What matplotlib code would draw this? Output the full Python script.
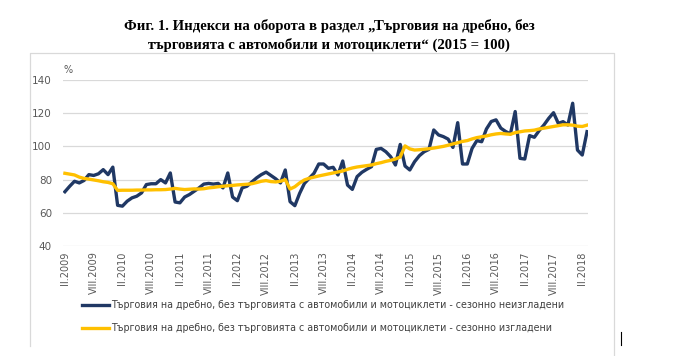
import matplotlib.pyplot as plt
import numpy as np
from matplotlib.lines import Line2D

# monthly indices, II.2009 .. III.2018 (2015 = 100)
unadjusted = [72.7, 76, 79, 78, 79.5, 83, 82.5, 83.5, 86, 83, 87.5,
              64.5, 64, 67, 69, 70, 72, 77, 77.5, 77.5, 80, 78, 84,
              66.5, 66, 69.5, 71, 73, 75, 77.3, 77.7, 77.3, 77.7, 75, 84,
              69.5, 67.3, 75, 76, 78.5, 81, 83, 84.5, 82.5, 80.5, 78, 85.8,
              66.7, 64.3, 71.7, 77.7, 80.8, 83.8, 89.4, 89.4, 86.8, 87.4, 82.8, 91.2,
              76.7, 74.1, 81.8, 84.4, 86.2, 87.8, 98.2, 98.8, 96.8, 93.8, 88.8, 101.2,
              88.2, 85.8, 90.8, 94.4, 96.8, 98.2, 109.9, 106.9, 105.9, 104.4, 99.4, 114.3,
              89.4, 89.4, 98.8, 103.5, 102.8, 110.5, 115, 116, 111, 109, 107.5, 121,
              92.8, 92.4, 106.5, 105.5, 109.5, 112.9, 116.9, 120.3, 113.9, 114.9, 112.9, 126,
              97.8, 94.8, 108.9]
adjusted = [83.8, 83.3, 82.8, 81.5, 80.7, 80.3, 79.8, 79.3, 78.7, 78.3, 77.5,
            73.5, 73.6, 73.6, 73.6, 73.7, 73.7, 73.8, 73.8, 73.9, 73.9, 74, 74.3,
            74.7, 74.3, 74, 74.2, 74.4, 74.3, 74.5, 75, 75.3, 75.7, 76, 76.3,
            76.5, 76.8, 77, 77.2, 77.5, 78.2, 79, 79.4, 78.8, 78.6, 79, 80,
            74.3, 75.7, 78, 79.8, 80.8, 81.5, 82.2, 82.8, 83.4, 84, 84.6, 85.2,
            86.2, 87, 87.6, 88, 88.4, 88.8, 89.6, 90.2, 91, 91.6, 92.4, 93.6,
            100.3, 98.5, 97.8, 98, 98.3, 98.6, 99, 99.5, 100, 100.7, 101.5, 102.2,
            103, 103.5, 104.5, 105.3, 105.8, 106.3, 107, 107.5, 107.8, 107.5, 107.3, 108.3,
            108.8, 109.3, 109.5, 109.8, 110.5, 111, 111.5, 112, 112.5, 113, 113, 112.8,
            112.2, 112, 112.8]
tick_labels = []
for year in range(2009, 2019):
    tick_labels += ['II.%d' % year, 'VIII.%d' % year]
tick_labels = tick_labels[:-1]

label_nsa = 'Търговия на дребно, без търговията с автомобили и мотоциклети - сезонно неизгладени'
label_sa = 'Търговия на дребно, без търговията с автомобили и мотоциклети - сезонно изгладени'

W, H = 679, 356
fig = plt.figure(figsize=(W / 100, H / 100), dpi=100)

ax = fig.add_axes([63 / W, 1 - 246 / H, 525 / W, 166 / H])
x = np.arange(len(unadjusted))
ax.plot(x, unadjusted, color='#203864', lw=2.4, solid_joinstyle='round')
ax.plot(x, adjusted, color='#ffc000', lw=2.4, solid_joinstyle='round')

ax.set_xlim(-0.4, len(x) - 0.8)
ax.set_ylim(40, 140)
ax.set_yticks(range(40, 141, 20))
ax.grid(axis='y', color='#d9d9d9', lw=0.9)
ax.set_axisbelow(True)
ax.set_xticks(range(0, len(x), 6))
ax.set_xticklabels(tick_labels, rotation=90, fontsize=7, color='#595959')
ax.tick_params(axis='both', length=0, pad=4)
ax.tick_params(axis='y', labelsize=7.5, labelcolor='#595959', pad=8)
for s in ax.spines.values():
    s.set_visible(False)
ax.text(0, 1.04, '%', transform=ax.transAxes, fontsize=7, color='#595959')

# legend
for y_px, col, lab in [(305, '#203864', label_nsa), (328, '#ffc000', label_sa)]:
    fig.add_artist(Line2D([82 / W, 109 / W], [1 - y_px / H] * 2, color=col, lw=2.4))
    fig.text(111 / W, 1 - y_px / H, lab, fontsize=6.85, color='#404040', va='center')

# chart frame (left, top, right)
frame = Line2D([30 / W, 30 / W, 614 / W, 614 / W],
               [1 - 346 / H, 1 - 53 / H, 1 - 53 / H, 0], color='#d9d9d9', lw=0.9)
fig.add_artist(frame)
fig.add_artist(Line2D([621 / W, 621 / W], [1 - 332 / H, 1 - 345 / H], color='black', lw=0.8))

fig.text(0.485, 1 - 26 / H, 'Фиг. 1. Индекси на оборота в раздел „Търговия на дребно, без',
         ha='center', va='center', fontsize=10.6, fontweight='bold', family='Liberation Serif')
fig.text(0.485, 1 - 45 / H, 'търговията с автомобили и мотоциклети“ (2015 = 100)',
         ha='center', va='center', fontsize=10.6, fontweight='bold', family='Liberation Serif')

fig.savefig('out.png', dpi=100)
